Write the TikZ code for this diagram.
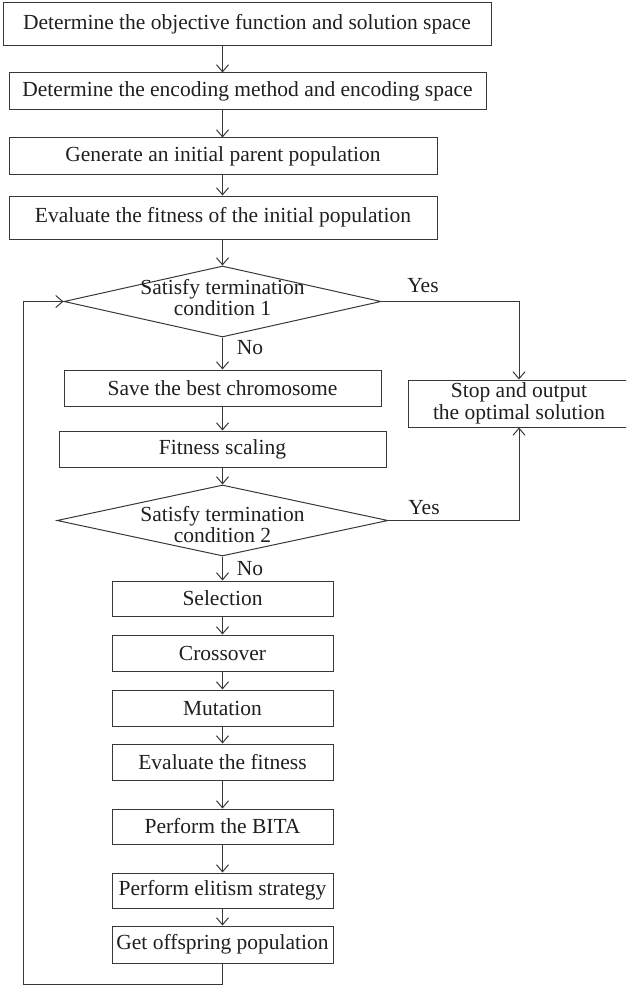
\documentclass[tikz,border=0pt]{standalone}
\usepackage{fontspec}
\setmainfont{Liberation Serif}
\usetikzlibrary{shapes.geometric,arrows.meta}
\begin{document}
\begin{tikzpicture}[x=1pt,y=-1pt,
  box/.style={draw=black!78, line width=1pt, rectangle, inner sep=0pt, font=\fontsize{21.5}{21.5}\selectfont, text=black!88, align=center},
  dia/.style={draw=black!78, line width=1pt, diamond, inner sep=0pt},
  lbl/.style={font=\fontsize{21.5}{21.5}\selectfont, text=black!88, inner sep=0pt, align=center},
  arr/.style={-{Straight Barb[length=7pt,width=12pt]}, draw=black!78, line width=1pt},
]
\useasboundingbox (0,0) rectangle (626,987);
\clip (0,0) rectangle (626,987);
\coordinate (col) at (222.5,0);
\coordinate (lp) at (23,984);

\node[box, minimum width=488, minimum height=43] (b1) at (247,24.5) {Determine the objective function and solution space};
\node[box, minimum width=477, minimum height=37] (b2) at (247.5,91.5) {Determine the encoding method and encoding space};
\node[box, minimum width=428, minimum height=37] (b3) at (223,156.5) {Generate an initial parent population};
\node[box, minimum width=428, minimum height=43] (b4) at (223,217.5) {Evaluate the fitness of the initial population};

\node[dia, minimum width=317, minimum height=71] (d1) at (222.5,301.5) {};
\node[lbl] (d1t) at (222.5,297.5) {Satisfy termination\\condition 1};

\node[box, minimum width=317, minimum height=36] (save) at (222.5,388) {Save the best chromosome};
\node[box, minimum width=222, minimum height=47] (stop) at (519,403.5) {Stop and output\\the optimal solution};
\node[box, minimum width=327, minimum height=36] (fit) at (222.5,449) {Fitness scaling};

\node[dia, minimum width=331, minimum height=71] (d2) at (222.5,520.5) {};
\node[lbl] (d2t) at (222.5,524.5) {Satisfy termination\\condition 2};

\node[box, minimum width=221, minimum height=35] (sel) at (222.5,598.5) {Selection};
\node[box, minimum width=221, minimum height=36] (cro) at (222.5,653) {Crossover};
\node[box, minimum width=221, minimum height=36] (mut) at (222.5,708) {Mutation};
\node[box, minimum width=221, minimum height=36] (eva) at (222.5,762) {Evaluate the fitness};
\node[box, minimum width=221, minimum height=35] (bita) at (222.5,826.5) {Perform the BITA};
\node[box, minimum width=221, minimum height=35] (eli) at (222.5,890.5) {Perform elitism strategy};
\node[box, minimum width=221, minimum height=37] (off) at (222.5,944.5) {Get offspring population};

\node[lbl] (yes1) at (423,286) {Yes};
\node[lbl] (yes2) at (424,508) {Yes};
\node[lbl] (no1) at (250,348) {No};
\node[lbl] (no2) at (250,569) {No};

\draw[arr] (b1.south -| col) -- (b2.north -| col);
\draw[arr] (b2.south -| col) -- (b3.north -| col);
\draw[arr] (b3.south -| col) -- (b4.north -| col);
\draw[arr] (b4.south -| col) -- (d1.north);
\draw[arr] (d1.south) -- (save.north);
\draw[arr] (save.south) -- (fit.north);
\draw[arr] (fit.south) -- (d2.north);
\draw[arr] (d2.south) -- (sel.north);
\draw[arr] (sel.south) -- (cro.north);
\draw[arr] (cro.south) -- (mut.north);
\draw[arr] (mut.south) -- (eva.north);
\draw[arr] (eva.south) -- (bita.north);
\draw[arr] (bita.south) -- (eli.north);
\draw[arr] (eli.south) -- (off.north);
\draw[arr] (d1.east) -| (stop.north);
\draw[arr] (d2.east) -| (stop.south);
\draw[arr] (off.south) |- (lp) |- (d1.west);
\end{tikzpicture}
\end{document}
